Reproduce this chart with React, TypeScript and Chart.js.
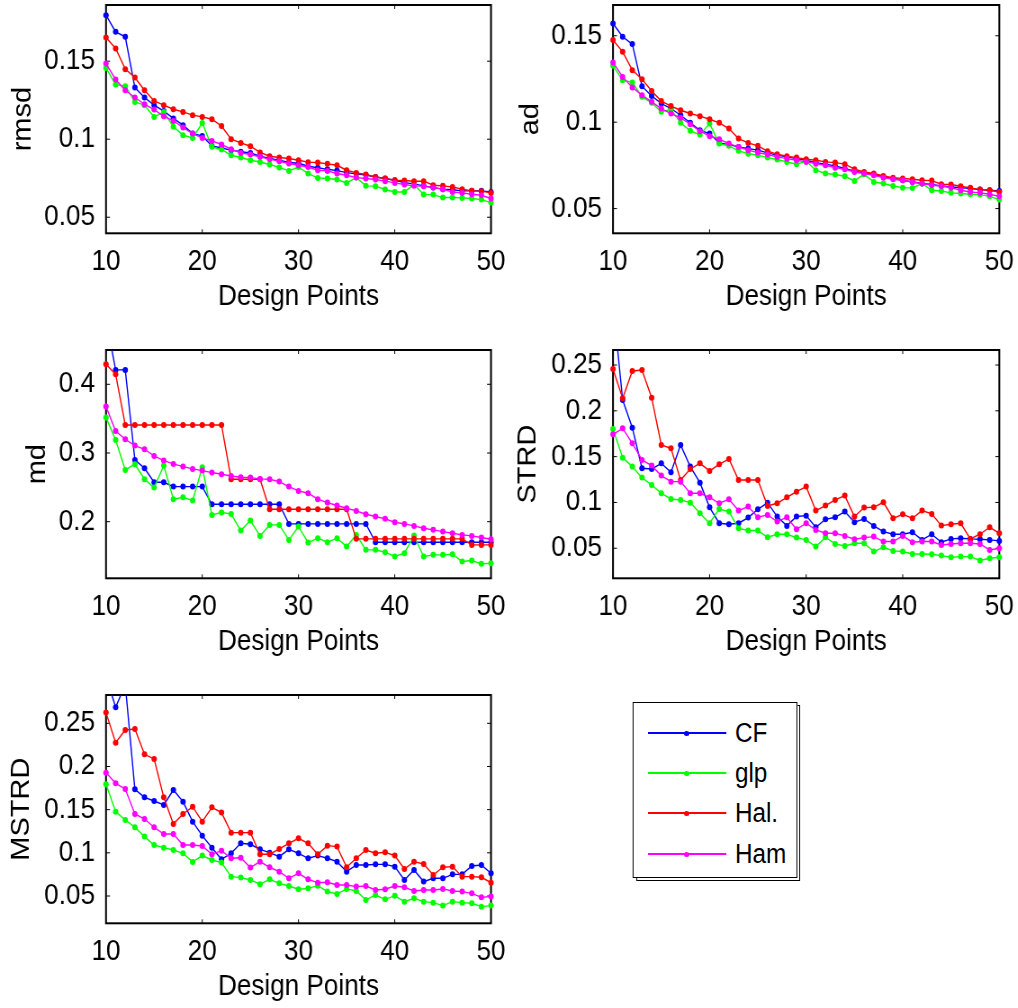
import React, { useEffect, useRef } from "react";
import { Chart, registerables } from "chart.js";

Chart.register(...registerables);

// ---------------- data ----------------
const DESIGN_POINTS = [10, 11, 12, 13, 14, 15, 16, 17, 18, 19, 20, 21, 22, 23, 24, 25, 26, 27, 28, 29, 30,
  31, 32, 33, 34, 35, 36, 37, 38, 39, 40, 41, 42, 43, 44, 45, 46, 47, 48, 49, 50];
const X_TICKS = [10, 20, 30, 40, 50];
const SERIES = ["CF", "glp", "Hal.", "Ham"];
const COLORS = ["#0000ff", "#00ff00", "#ff0000", "#ff00ff"];

const RMSD_CF = [0.1795, 0.1688, 0.1656, 0.1331, 0.1267, 0.1218, 0.118, 0.1133, 0.109, 0.1036, 0.1021,
  0.0957, 0.0944, 0.093, 0.092, 0.0912, 0.0891, 0.0876, 0.0865, 0.0851, 0.0846, 0.0827, 0.0817, 0.0807,
  0.0799, 0.0786, 0.0778, 0.0771, 0.0758, 0.0748, 0.0737, 0.0722, 0.0714, 0.0701, 0.069, 0.068, 0.0676,
  0.0669, 0.0669, 0.0669, 0.0662];
const RMSD_GLP = [0.1457, 0.135, 0.134, 0.1239, 0.1218, 0.1143, 0.1175, 0.1079, 0.1026, 0.1008, 0.1104,
  0.0951, 0.0934, 0.0897, 0.0883, 0.0865, 0.0854, 0.0838, 0.0819, 0.0797, 0.0822, 0.078, 0.0752, 0.0748,
  0.0742, 0.072, 0.0754, 0.0701, 0.0699, 0.0678, 0.0662, 0.0662, 0.071, 0.0645, 0.0645, 0.0626, 0.0626,
  0.0624, 0.062, 0.0613, 0.0594];
const RMSD_HAL = [0.1652, 0.1581, 0.1449, 0.1395, 0.1314, 0.1245, 0.1218, 0.1192, 0.1175, 0.1154, 0.1143,
  0.1128, 0.1085, 0.1, 0.0976, 0.0955, 0.0915, 0.0891, 0.0883, 0.0876, 0.0865, 0.0853, 0.0851, 0.0842,
  0.0833, 0.0801, 0.0784, 0.0774, 0.0758, 0.0748, 0.0737, 0.0735, 0.0731, 0.0731, 0.0705, 0.0701, 0.0694,
  0.068, 0.0669, 0.0667, 0.0656];
const RMSD_HAM = [0.1485, 0.1383, 0.1314, 0.1267, 0.1224, 0.119, 0.1147, 0.1117, 0.1075, 0.1036, 0.1008,
  0.0989, 0.0966, 0.0936, 0.0912, 0.0902, 0.0887, 0.0872, 0.0859, 0.0844, 0.0833, 0.0822, 0.0801, 0.0797,
  0.078, 0.0769, 0.0754, 0.0748, 0.0742, 0.0731, 0.072, 0.071, 0.0701, 0.0699, 0.069, 0.068, 0.0662,
  0.0656, 0.0647, 0.0641, 0.062];
const RMSD_TICKS = [0.05, 0.1, 0.15];

const AD_CF = [0.1571, 0.1494, 0.1452, 0.1208, 0.1152, 0.1108, 0.1079, 0.104, 0.0996, 0.0953, 0.0934,
  0.088, 0.087, 0.0857, 0.0847, 0.0838, 0.0822, 0.0809, 0.0799, 0.0789, 0.078, 0.0766, 0.0757, 0.0747,
  0.0732, 0.0716, 0.0706, 0.0697, 0.0683, 0.0674, 0.0664, 0.0654, 0.0645, 0.0639, 0.0631, 0.0625, 0.0621,
  0.0616, 0.061, 0.0606, 0.0602];
const AD_GLP = [0.1326, 0.1243, 0.123, 0.1147, 0.1112, 0.106, 0.1073, 0.0996, 0.095, 0.0928, 0.0992,
  0.0876, 0.0863, 0.0834, 0.0818, 0.0809, 0.0795, 0.0784, 0.077, 0.0757, 0.0774, 0.0722, 0.0703, 0.0697,
  0.0687, 0.066, 0.0699, 0.0654, 0.0645, 0.0631, 0.0621, 0.0619, 0.0645, 0.0606, 0.0602, 0.0591, 0.0587,
  0.0583, 0.0581, 0.0571, 0.0552];
const AD_HAL = [0.1475, 0.1407, 0.1301, 0.1249, 0.1181, 0.1122, 0.1093, 0.1069, 0.105, 0.1035, 0.1017,
  0.0996, 0.0963, 0.0905, 0.088, 0.0863, 0.0832, 0.0815, 0.0803, 0.0795, 0.0786, 0.078, 0.077, 0.0766,
  0.0757, 0.0728, 0.0712, 0.0703, 0.0689, 0.0679, 0.0674, 0.067, 0.0664, 0.0662, 0.0641, 0.0639, 0.0629,
  0.062, 0.061, 0.0606, 0.0596];
const AD_HAM = [0.1346, 0.1262, 0.1201, 0.1156, 0.1118, 0.1079, 0.105, 0.1025, 0.0988, 0.0948, 0.0919,
  0.0901, 0.0876, 0.0857, 0.0838, 0.0824, 0.0813, 0.0799, 0.0789, 0.078, 0.077, 0.076, 0.0751, 0.0737,
  0.0728, 0.0712, 0.0703, 0.0693, 0.0679, 0.067, 0.0664, 0.0654, 0.0645, 0.0635, 0.0631, 0.0621, 0.0606,
  0.0596, 0.0591, 0.0583, 0.0571];
const AD_TICKS = [0.05, 0.1, 0.15];

const MD_CF = [0.495, 0.4209, 0.4209, 0.2899, 0.2778, 0.2574, 0.2574, 0.2511, 0.2511, 0.2511, 0.2511,
  0.2254, 0.2254, 0.2254, 0.2254, 0.2254, 0.2254, 0.2254, 0.2254,
  0.1968, 0.1968, 0.1968, 0.1968, 0.1968, 0.1968, 0.1968, 0.1968, 0.1968,
  0.1701, 0.1701, 0.1701, 0.1701, 0.1701, 0.1701, 0.1701, 0.1701, 0.1701, 0.1701, 0.1701, 0.1701, 0.1701];
const MD_GLP = [0.3515, 0.319, 0.2753, 0.2836, 0.2618, 0.2496, 0.2817, 0.2327, 0.2356, 0.2307, 0.2792,
  0.2099, 0.2133, 0.2113, 0.1871, 0.2016, 0.1793, 0.1953, 0.1953, 0.1735, 0.1929, 0.1696, 0.176, 0.1701,
  0.176, 0.1638, 0.1808, 0.159, 0.159, 0.1556, 0.1493, 0.1541, 0.1798, 0.1493, 0.1517, 0.1517, 0.1527,
  0.142, 0.1434, 0.1386, 0.1396];
const MD_HAL = [0.429, 0.4146, 0.3408, 0.3408, 0.3408, 0.3408, 0.3408, 0.3408, 0.3408, 0.3408, 0.3408,
  0.3408, 0.3408, 0.2618, 0.2618, 0.2618, 0.2618,
  0.2181, 0.2181, 0.2181, 0.2181, 0.2181, 0.2181, 0.2181, 0.2181, 0.2181,
  0.175, 0.175, 0.175, 0.175, 0.175, 0.175, 0.175, 0.175, 0.175, 0.175, 0.175, 0.175,
  0.1662, 0.1662, 0.1662];
const MD_HAM = [0.3675, 0.3321, 0.32, 0.3108, 0.3054, 0.2957, 0.2889, 0.2841, 0.2802, 0.2768, 0.2744,
  0.2715, 0.269, 0.2666, 0.2647, 0.2642, 0.2623, 0.2618, 0.2584, 0.2511, 0.2448, 0.2414, 0.2327, 0.2278,
  0.2235, 0.2196, 0.2157, 0.2109, 0.2075, 0.2041, 0.1992, 0.1968, 0.1939, 0.1905, 0.1881, 0.1856, 0.1832,
  0.1808, 0.1793, 0.1769, 0.1745];
const MD_TICKS = [0.2, 0.3, 0.4];

const STRD_CF = [0.317, 0.2118, 0.1816, 0.1373, 0.1365, 0.1427, 0.1329, 0.1627, 0.1391, 0.1216, 0.0947,
  0.0773, 0.0762, 0.0773, 0.0835, 0.0925, 0.0998, 0.0846, 0.0744, 0.0846, 0.0856, 0.0729, 0.0816, 0.0838,
  0.09, 0.0784, 0.082, 0.0744, 0.0682, 0.0653, 0.0653, 0.0675, 0.0591, 0.0653, 0.0566, 0.0602, 0.0609,
  0.0602, 0.0598, 0.0591, 0.058];
const STRD_GLP = [0.1802, 0.1489, 0.1391, 0.1271, 0.1191, 0.11, 0.1038, 0.1027, 0.0998, 0.0882, 0.0773,
  0.0929, 0.09, 0.0718, 0.0693, 0.0693, 0.062, 0.0653, 0.0653, 0.0616, 0.0591, 0.0518, 0.062, 0.0547,
  0.0525, 0.0555, 0.0555, 0.0464, 0.0511, 0.0471, 0.0464, 0.0438, 0.0438, 0.0435, 0.042, 0.0402, 0.0409,
  0.0409, 0.0366, 0.0391, 0.0402];
const STRD_HAL = [0.2456, 0.2136, 0.2435, 0.2445, 0.2144, 0.1627, 0.1591, 0.1245, 0.1365, 0.1427, 0.1344,
  0.1416, 0.1475, 0.1245, 0.1245, 0.1245, 0.0962, 0.0991, 0.1056, 0.1118, 0.1173, 0.0911, 0.0966, 0.1027,
  0.1075, 0.0846, 0.0944, 0.0947, 0.1002, 0.0827, 0.0871, 0.0827, 0.0911, 0.0875, 0.0747, 0.0762, 0.0773,
  0.0602, 0.0653, 0.0729, 0.0664];
const STRD_HAM = [0.1744, 0.1809, 0.1645, 0.1464, 0.1402, 0.1293, 0.1227, 0.1227, 0.11, 0.11, 0.1056,
  0.0991, 0.1035, 0.0911, 0.0955, 0.0838, 0.0864, 0.0791, 0.0838, 0.0707, 0.0773, 0.07, 0.0664, 0.0664,
  0.0635, 0.0598, 0.0616, 0.0627, 0.0573, 0.0573, 0.0635, 0.0566, 0.0573, 0.0573, 0.0536, 0.0547, 0.0555,
  0.0555, 0.0547, 0.0482, 0.05];
const STRD_TICKS = [0.05, 0.1, 0.15, 0.2, 0.25];

const MSTRD_CF = [0.305, 0.2685, 0.295, 0.1736, 0.1643, 0.16, 0.1554, 0.1728, 0.1593, 0.1361, 0.1199,
  0.106, 0.0925, 0.0995, 0.111, 0.1099, 0.1041, 0.1002, 0.0956, 0.1041, 0.0995, 0.0937, 0.0968, 0.0937,
  0.0898, 0.0782, 0.0859, 0.0859, 0.0867, 0.0867, 0.084, 0.0686, 0.0802, 0.0667, 0.0705, 0.0705, 0.0751,
  0.0751, 0.0848, 0.0859, 0.0763];
const MSTRD_GLP = [0.1794, 0.1477, 0.1381, 0.1296, 0.1188, 0.1091, 0.106, 0.1033, 0.0995, 0.0895, 0.0968,
  0.0917, 0.0887, 0.0724, 0.0713, 0.0686, 0.0636, 0.0693, 0.0647, 0.0616, 0.0578, 0.0589, 0.062, 0.0551,
  0.0524, 0.0582, 0.0558, 0.0454, 0.0512, 0.0462, 0.0504, 0.0435, 0.0474, 0.0435, 0.0423, 0.0389, 0.0435,
  0.0423, 0.0416, 0.0377, 0.0389];
const MSTRD_HAL = [0.2624, 0.2276, 0.2423, 0.2434, 0.2141, 0.2087, 0.1643, 0.1334, 0.145, 0.1535, 0.1361,
  0.1527, 0.1466, 0.1234, 0.1234, 0.1234, 0.0983, 0.0983, 0.1045, 0.111, 0.1168, 0.111, 0.0983, 0.1083,
  0.1072, 0.0833, 0.0937, 0.1033, 0.0995, 0.1006, 0.0968, 0.0813, 0.0898, 0.0871, 0.0744, 0.0833, 0.084,
  0.0724, 0.0724, 0.0717, 0.0655];
const MSTRD_HAM = [0.1929, 0.1805, 0.174, 0.145, 0.1392, 0.1296, 0.1218, 0.1218, 0.1091, 0.1091, 0.108,
  0.0983, 0.1025, 0.0937, 0.0944, 0.0829, 0.0898, 0.0833, 0.0782, 0.0705, 0.0763, 0.0693, 0.0655, 0.0659,
  0.0628, 0.0628, 0.0609, 0.0616, 0.057, 0.0578, 0.0616, 0.0601, 0.0558, 0.057, 0.057, 0.0582, 0.0558,
  0.0551, 0.0531, 0.0485, 0.0493];
const MSTRD_TICKS = [0.05, 0.1, 0.15, 0.2, 0.25];

const PANELS = [
  { label: "rmsd", series: [RMSD_CF, RMSD_GLP, RMSD_HAL, RMSD_HAM], yMin: 0.0397, yMax: 0.186, yTicks: RMSD_TICKS },
  { label: "ad", series: [AD_CF, AD_GLP, AD_HAL, AD_HAM], yMin: 0.0357, yMax: 0.1678, yTicks: AD_TICKS },
  { label: "md", series: [MD_CF, MD_GLP, MD_HAL, MD_HAM], yMin: 0.1176, yMax: 0.4499, yTicks: MD_TICKS },
  { label: "STRD", series: [STRD_CF, STRD_GLP, STRD_HAL, STRD_HAM], yMin: 0.0172, yMax: 0.2664, yTicks: STRD_TICKS },
  { label: "MSTRD", series: [MSTRD_CF, MSTRD_GLP, MSTRD_HAL, MSTRD_HAM], yMin: 0.0184, yMax: 0.2828, yTicks: MSTRD_TICKS },
];

// ---------------- layout (final page pixels) ----------------
const SX = 0.9; // horizontal compression of the whole figure
const X = (v: number) => v / SX;
const FONT_FAMILY = '"Liberation Sans", Arial, Helvetica, sans-serif';
const FONT_SIZE = 29;
const CANVAS_W = 509;
const CANVAS_H = 320;

const LAYOUT = [
  { cl: 0, pl: 106, pr: 491, top: 0, titleX: 23 },
  { cl: 509, pl: 613, pr: 999.3, top: 0, titleX: 531 },
  { cl: 0, pl: 106, pr: 491, top: 345, titleX: 38 },
  { cl: 509, pl: 613, pr: 999.3, top: 345, titleX: 528 },
  { cl: 0, pl: 106, pr: 491, top: 690, titleX: 22 },
];

const framePlugin = {
  id: "matlabFrame",
  beforeDatasetsDraw(chart: any) {
    const { ctx, chartArea: a, scales } = chart;
    ctx.save();
    ctx.strokeStyle = "#000";
    ctx.lineWidth = 1;
    ctx.beginPath();
    for (const v of X_TICKS) {
      const x = scales.x.getPixelForValue(v);
      ctx.moveTo(x, a.bottom);
      ctx.lineTo(x, a.bottom - 4);
      ctx.moveTo(x, a.top);
      ctx.lineTo(x, a.top + 4);
    }
    for (const t of scales.y.ticks) {
      const y = scales.y.getPixelForValue(t.value);
      ctx.moveTo(a.left, y);
      ctx.lineTo(a.left + X(4), y);
      ctx.moveTo(a.right, y);
      ctx.lineTo(a.right - X(4), y);
    }
    ctx.stroke();
    ctx.lineWidth = 2;
    ctx.strokeRect(a.left, a.top, a.right - a.left, a.bottom - a.top);
    ctx.restore();
  },
};

function fmt(v: number) {
  return String(Number(v.toFixed(4)));
}

function Panel({ idx }: { idx: number }) {
  const ref = useRef<HTMLCanvasElement>(null);
  const cfg = PANELS[idx];
  const lay = LAYOUT[idx];
  const cL = Math.round(X(lay.cl));
  const cW = Math.round(X(CANVAS_W));
  useEffect(() => {
    const yW = X(lay.pl) - cL;
    const padR = cL + cW - X(lay.pr);
    const titlePad = Math.max(0, X(lay.titleX) - cL - FONT_SIZE / 2);
    const font = { family: FONT_FAMILY, size: FONT_SIZE, lineHeight: 1 };
    const datasets = cfg.series.map((vals, i) => ({
      label: SERIES[i],
      data: vals.map((y, j) => ({ x: DESIGN_POINTS[j], y })),
      borderColor: COLORS[i],
      backgroundColor: COLORS[i],
      pointBackgroundColor: COLORS[i],
      pointBorderColor: COLORS[i],
      borderWidth: 1.4,
      pointRadius: 3,
      pointBorderWidth: 0,
      pointHoverRadius: 3,
      tension: 0,
      fill: false,
      order: SERIES.length - i,
      clip: { left: 8, right: 8, top: 0, bottom: 8 },
    }));
    const chart = new Chart(ref.current as HTMLCanvasElement, {
      type: "line",
      data: { datasets },
      plugins: [framePlugin],
      options: {
        animation: false,
        responsive: false,
        events: [],
        layout: { padding: { left: 0, right: padR, top: 5, bottom: 0 } },
        plugins: { legend: { display: false }, tooltip: { enabled: false } },
        scales: {
          x: {
            type: "linear",
            min: 10,
            max: 50,
            afterBuildTicks: (s: any) => {
              s.ticks = X_TICKS.map((v) => ({ value: v }));
            },
            afterFit: (s: any) => {
              s.height = CANVAS_H - 5 - 228.3;
              s.paddingLeft = 0;
              s.paddingRight = 0;
            },
            grid: { display: false, drawTicks: false },
            border: { display: false },
            ticks: {
              font,
              color: "#000",
              padding: 14.4,
              maxRotation: 0,
              autoSkip: false,
              callback: (v: any) => String(v),
            },
            title: {
              display: true,
              text: "Design Points",
              font,
              color: "#000",
              padding: { top: 0, bottom: 8.5 },
            },
          },
          y: {
            type: "linear",
            min: cfg.yMin,
            max: cfg.yMax,
            afterBuildTicks: (s: any) => {
              s.ticks = cfg.yTicks.map((v) => ({ value: v }));
            },
            afterFit: (s: any) => {
              s.width = yW;
              s.paddingTop = 0;
              s.paddingBottom = 0;
            },
            grid: { display: false, drawTicks: false },
            border: { display: false },
            ticks: {
              font,
              color: "#000",
              padding: X(11),
              autoSkip: false,
              callback: (v: any) => fmt(Number(v)),
            },
            title: {
              display: true,
              text: cfg.label,
              font,
              color: "#000",
              padding: { top: titlePad, bottom: 0 },
            },
          },
        },
      },
    } as any);
    return () => chart.destroy();
  }, []);
  return (
    <canvas
      ref={ref}
      width={cW}
      height={CANVAS_H}
      style={{ position: "absolute", left: cL, top: lay.top, width: cW, height: CANVAS_H }}
    />
  );
}

const LEGEND_BOX = { left: 633, top: 702, width: 164, height: 176 };
const LEGEND_ROW_Y = [30, 70, 110, 151];

function Legend() {
  const b = LEGEND_BOX;
  return (
    <>
      <div
        style={{
          position: "absolute",
          left: X(b.left + 3),
          top: b.top + 3,
          width: X(b.width),
          height: b.height,
          border: "1.5px solid #000",
          boxSizing: "border-box",
          background: "#fff",
        }}
      />
      <div
        style={{
          position: "absolute",
          left: X(b.left),
          top: b.top,
          width: X(b.width),
          height: b.height,
          border: "1.5px solid #000",
          boxSizing: "border-box",
          background: "#fff",
        }}
      >
        {SERIES.map((name, i) => (
          <div key={name} style={{ position: "absolute", left: 0, top: LEGEND_ROW_Y[i] - 20, width: "100%", height: 40 }}>
            <div
              style={{
                position: "absolute",
                left: X(14),
                top: 19,
                width: X(78),
                height: 2,
                background: COLORS[i],
              }}
            />
            <div
              style={{
                position: "absolute",
                left: X(53) - X(2.5),
                top: 17.5,
                width: X(5),
                height: 5,
                borderRadius: "50%",
                background: COLORS[i],
              }}
            />
            <span
              style={{
                position: "absolute",
                left: X(101),
                top: 0,
                lineHeight: "40px",
                fontSize: 27,
                fontFamily: FONT_FAMILY,
                color: "#000",
                whiteSpace: "nowrap",
              }}
            >
              {name}
            </span>
          </div>
        ))}
      </div>
    </>
  );
}

export default function App() {
  return (
    <div
      style={{
        position: "absolute",
        left: 0,
        top: 0,
        width: 1018,
        height: 1008,
        overflow: "hidden",
        background: "#fff",
        fontFamily: FONT_FAMILY,
      }}
    >
      <div
        style={{
          position: "absolute",
          left: 0,
          top: 0,
          width: X(1018),
          height: 1008,
          transform: `scaleX(${SX})`,
          transformOrigin: "0 0",
        }}
      >
        {PANELS.map((_, i) => (
          <Panel key={i} idx={i} />
        ))}
        <Legend />
      </div>
    </div>
  );
}
